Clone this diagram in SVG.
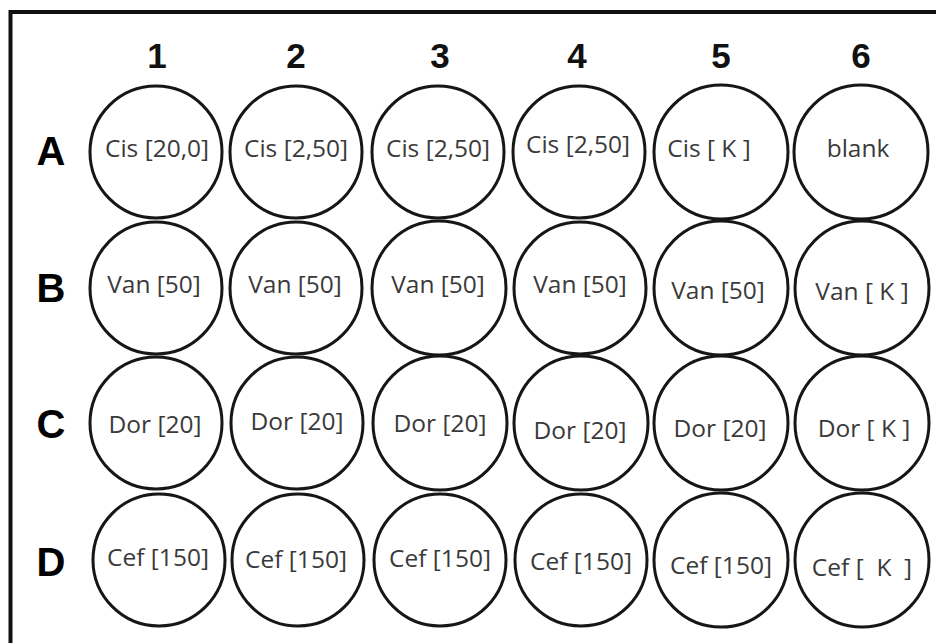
<svg xmlns="http://www.w3.org/2000/svg" width="936" height="643" viewBox="0 0 936 643">
<style>
.well{fill:#fff;stroke:#161616;stroke-width:3}
.lbl{font-family:"Open Sans","Liberation Sans",sans-serif;font-size:24.5px;fill:#3a3a3a;text-anchor:middle;white-space:pre}
.col{font-family:"Liberation Sans",Arial,sans-serif;font-size:35px;font-weight:bold;fill:#111;text-anchor:middle}
.row{font-family:"Liberation Sans",Arial,sans-serif;font-size:40px;font-weight:bold;fill:#000;text-anchor:middle}
</style>
<rect x="0" y="0" width="936" height="643" fill="#fff"/>
<path d="M940 12 H10.5 V650" fill="none" stroke="#111" stroke-width="4"/>
<g id="headers">
<text class="col" x="157" y="68">1</text>
<text class="col" x="296" y="68">2</text>
<text class="col" x="440" y="68">3</text>
<text class="col" x="577" y="68">4</text>
<text class="col" x="721" y="68">5</text>
<text class="col" x="861" y="68">6</text>
<text class="row" x="51" y="165">A</text>
<text class="row" x="51" y="302">B</text>
<text class="row" x="51" y="438">C</text>
<text class="row" x="51" y="576">D</text>
</g>
<g id="A1"><circle class="well" cx="156" cy="152" r="66"/><text class="lbl" x="157" y="157">Cis [20,0]</text></g>
<g id="A2"><circle class="well" cx="296" cy="152" r="66"/><text class="lbl" x="296" y="157">Cis [2,50]</text></g>
<g id="A3"><circle class="well" cx="438" cy="152" r="66"/><text class="lbl" x="438" y="157">Cis [2,50]</text></g>
<g id="A4"><circle class="well" cx="579" cy="152" r="66"/><text class="lbl" x="578" y="153">Cis [2,50]</text></g>
<g id="A5"><circle class="well" cx="721" cy="152" r="67"/><text class="lbl" x="709" y="157">Cis [ K ]</text></g>
<g id="A6"><circle class="well" cx="861" cy="152" r="67"/><text class="lbl" x="858" y="157">blank</text></g>
<g id="B1"><circle class="well" cx="156" cy="288" r="66"/><text class="lbl" x="154" y="293">Van [50]</text></g>
<g id="B2"><circle class="well" cx="296" cy="288" r="66"/><text class="lbl" x="295" y="293">Van [50]</text></g>
<g id="B3"><circle class="well" cx="439" cy="288" r="67"/><text class="lbl" x="438" y="293">Van [50]</text></g>
<g id="B4"><circle class="well" cx="580" cy="288" r="66"/><text class="lbl" x="580" y="293">Van [50]</text></g>
<g id="B5"><circle class="well" cx="721" cy="288" r="67"/><text class="lbl" x="718" y="299">Van [50]</text></g>
<g id="B6"><circle class="well" cx="862" cy="288" r="67"/><text class="lbl" x="862" y="300">Van [ K ]</text></g>
<g id="C1"><circle class="well" cx="156" cy="423" r="66"/><text class="lbl" x="155" y="433">Dor [20]</text></g>
<g id="C2"><circle class="well" cx="297" cy="423" r="66"/><text class="lbl" x="297" y="430">Dor [20]</text></g>
<g id="C3"><circle class="well" cx="440" cy="423" r="67"/><text class="lbl" x="440" y="432">Dor [20]</text></g>
<g id="C4"><circle class="well" cx="581" cy="423" r="67"/><text class="lbl" x="580" y="439">Dor [20]</text></g>
<g id="C5"><circle class="well" cx="721" cy="423" r="67"/><text class="lbl" x="720" y="437">Dor [20]</text></g>
<g id="C6"><circle class="well" cx="862" cy="423" r="67"/><text class="lbl" x="864" y="437">Dor [ K ]</text></g>
<g id="D1"><circle class="well" cx="159" cy="560" r="66"/><text class="lbl" x="158" y="566">Cef [150]</text></g>
<g id="D2"><circle class="well" cx="298" cy="560" r="66"/><text class="lbl" x="296" y="568">Cef [150]</text></g>
<g id="D3"><circle class="well" cx="440" cy="560" r="66"/><text class="lbl" x="440" y="567">Cef [150]</text></g>
<g id="D4"><circle class="well" cx="581" cy="560" r="66"/><text class="lbl" x="581" y="570">Cef [150]</text></g>
<g id="D5"><circle class="well" cx="721" cy="560" r="67"/><text class="lbl" x="721" y="574">Cef [150]</text></g>
<g id="D6"><circle class="well" cx="862" cy="560" r="67"/><text class="lbl" x="862" y="576">Cef [  K  ]</text></g>
</svg>
